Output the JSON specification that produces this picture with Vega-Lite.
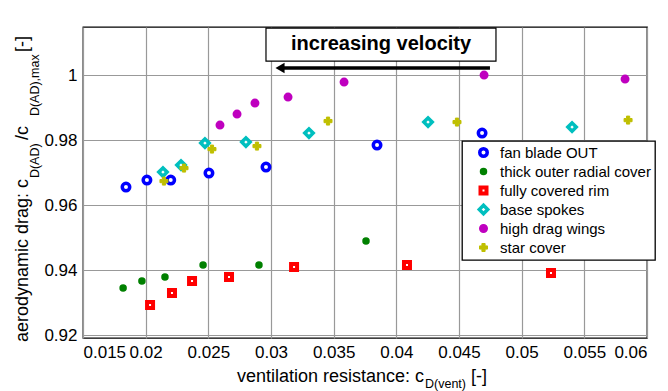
{
  "$schema": "https://vega.github.io/schema/vega-lite/v6.json",
  "width": 564,
  "height": 311,
  "autosize": {"type": "none"},
  "padding": {"left": 83, "top": 27, "right": 21, "bottom": 53},
  "background": "white",
  "data": {"values": [{}]},
  "config": {
    "font": "Liberation Sans",
    "view": {"stroke": "black", "strokeWidth": 1.3},
    "axis": {
      "domain": false,
      "grid": true,
      "gridColor": "#999999",
      "gridWidth": 1.2,
      "ticks": false,
      "labelFont": "Liberation Sans",
      "labelFontSize": 17,
      "labelColor": "black",
      "labelPadding": 6
    },
    "legend": {
      "orient": "none",
      "legendX": 379,
      "legendY": 114,
      "strokeColor": "black",
      "strokeWidth": 1.3,
      "fillColor": "white",
      "padding": 4,
      "symbolOffset": 10,
      "labelOffset": 9,
      "rowPadding": -4,
      "gridAlign": "all",
      "labelFont": "Liberation Sans",
      "labelFontSize": 15,
      "labelColor": "black",
      "labelLimit": 300
    }
  },
  "datasets": {
    "pts": [
      {"series": "fan blade OUT", "x": 0.01843, "y": 0.96554},
      {"series": "fan blade OUT", "x": 0.0201, "y": 0.96769},
      {"series": "fan blade OUT", "x": 0.022, "y": 0.96769},
      {"series": "fan blade OUT", "x": 0.02505, "y": 0.96985},
      {"series": "fan blade OUT", "x": 0.0296, "y": 0.97169},
      {"series": "fan blade OUT", "x": 0.03846, "y": 0.97846},
      {"series": "fan blade OUT", "x": 0.04684, "y": 0.98215},
      {"series": "thick outer radial cover", "x": 0.0182, "y": 0.93446},
      {"series": "thick outer radial cover", "x": 0.0197, "y": 0.93662},
      {"series": "thick outer radial cover", "x": 0.02154, "y": 0.93785},
      {"series": "thick outer radial cover", "x": 0.02458, "y": 0.94154},
      {"series": "thick outer radial cover", "x": 0.02904, "y": 0.94154},
      {"series": "thick outer radial cover", "x": 0.03758, "y": 0.94892},
      {"series": "fully covered rim", "x": 0.02035, "y": 0.92923},
      {"series": "fully covered rim", "x": 0.0221, "y": 0.93292},
      {"series": "fully covered rim", "x": 0.0237, "y": 0.93662},
      {"series": "fully covered rim", "x": 0.02665, "y": 0.93785},
      {"series": "fully covered rim", "x": 0.03184, "y": 0.94092},
      {"series": "fully covered rim", "x": 0.04085, "y": 0.94154},
      {"series": "fully covered rim", "x": 0.05234, "y": 0.93908},
      {"series": "base spokes", "x": 0.02138, "y": 0.97015},
      {"series": "base spokes", "x": 0.02282, "y": 0.97231},
      {"series": "base spokes", "x": 0.02473, "y": 0.97908},
      {"series": "base spokes", "x": 0.028, "y": 0.97938},
      {"series": "base spokes", "x": 0.03303, "y": 0.98215},
      {"series": "base spokes", "x": 0.04253, "y": 0.98554},
      {"series": "base spokes", "x": 0.05402, "y": 0.984},
      {"series": "high drag wings", "x": 0.02593, "y": 0.98462},
      {"series": "high drag wings", "x": 0.02729, "y": 0.988},
      {"series": "high drag wings", "x": 0.02872, "y": 0.99138},
      {"series": "high drag wings", "x": 0.03136, "y": 0.99323},
      {"series": "high drag wings", "x": 0.03583, "y": 0.99785},
      {"series": "high drag wings", "x": 0.047, "y": 1.0},
      {"series": "high drag wings", "x": 0.05825, "y": 0.99877},
      {"series": "star cover", "x": 0.02146, "y": 0.96738},
      {"series": "star cover", "x": 0.02306, "y": 0.97138},
      {"series": "star cover", "x": 0.02529, "y": 0.97723},
      {"series": "star cover", "x": 0.02888, "y": 0.97815},
      {"series": "star cover", "x": 0.03455, "y": 0.98585},
      {"series": "star cover", "x": 0.04484, "y": 0.98554},
      {"series": "star cover", "x": 0.05849, "y": 0.98615}
    ]
  },
  "layer": [
    {
      "data": {"name": "pts"},
      "mark": {"type": "point", "opacity": 1, "fillOpacity": 1, "strokeOpacity": 1},
      "encoding": {
        "x": {
          "field": "x", "type": "quantitative",
          "scale": {"domain": [0.015, 0.06], "nice": false, "zero": false},
          "axis": {"values": [0.015, 0.02, 0.025, 0.03, 0.035, 0.04, 0.045, 0.05, 0.055, 0.06], "format": "~g", "title": null}
        },
        "y": {
          "field": "y", "type": "quantitative",
          "scale": {"domain": [0.9191, 1.0148], "nice": false, "zero": false},
          "axis": {"values": [0.92, 0.94, 0.96, 0.98, 1.0], "format": "~g", "title": null}
        },
        "shape": {
          "field": "series", "type": "nominal",
          "scale": {
            "domain": ["fan blade OUT", "thick outer radial cover", "fully covered rim", "base spokes", "high drag wings", "star cover"],
            "range": ["circle", "circle", "square", "diamond", "circle", "cross"]
          },
          "legend": {"title": null}
        },
        "stroke": {
          "field": "series", "type": "nominal",
          "scale": {
            "domain": ["fan blade OUT", "thick outer radial cover", "fully covered rim", "base spokes", "high drag wings", "star cover"],
            "range": ["#0000ff", "#008000", "#ff0000", "#00bfbf", "#bf00bf", "#bfbf00"]
          },
          "legend": {"title": null}
        },
        "fill": {
          "field": "series", "type": "nominal",
          "scale": {
            "domain": ["fan blade OUT", "thick outer radial cover", "fully covered rim", "base spokes", "high drag wings", "star cover"],
            "range": ["#ffffff", "#008000", "#ffffff", "#ffffff", "#bf00bf", "#bfbf00"]
          },
          "legend": {"title": null}
        },
        "size": {
          "field": "series", "type": "nominal",
          "scale": {
            "type": "ordinal",
            "domain": ["fan blade OUT", "thick outer radial cover", "fully covered rim", "base spokes", "high drag wings", "star cover"],
            "range": [56, 36, 36, 70, 56, 64]
          },
          "legend": {"title": null}
        },
        "strokeWidth": {
          "field": "series", "type": "nominal",
          "scale": {
            "type": "ordinal",
            "domain": ["fan blade OUT", "thick outer radial cover", "fully covered rim", "base spokes", "high drag wings", "star cover"],
            "range": [3.5, 1.5, 4, 3.5, 1.5, 1]
          },
          "legend": {"title": null}
        }
      }
    },
    {
      "mark": {"type": "rect", "fill": "white", "stroke": "black", "strokeWidth": 1.2},
      "encoding": {
        "x": {"datum": 0.0296, "type": "quantitative"},
        "x2": {"datum": 0.04795},
        "y": {"datum": 1.01446, "type": "quantitative"},
        "y2": {"datum": 1.00431}
      }
    },
    {
      "mark": {"type": "text", "text": "increasing velocity", "font": "Liberation Sans", "fontWeight": "bold", "fontSize": 20, "align": "center", "baseline": "middle", "color": "black"},
      "encoding": {
        "x": {"datum": 0.03878, "type": "quantitative"},
        "y": {"datum": 1.0095, "type": "quantitative"}
      }
    },
    {
      "mark": {"type": "rule", "color": "black", "strokeWidth": 3.5},
      "encoding": {
        "x": {"datum": 0.03096, "type": "quantitative"},
        "x2": {"datum": 0.04747},
        "y": {"datum": 1.00215, "type": "quantitative"}
      }
    },
    {
      "mark": {"type": "point", "shape": "triangle-left", "filled": true, "color": "black", "opacity": 1, "size": 110},
      "encoding": {
        "x": {"datum": 0.03072, "type": "quantitative"},
        "y": {"datum": 1.00215, "type": "quantitative"}
      }
    },
    {
      "mark": {"type": "text", "text": "ventilation resistance: c", "font": "Liberation Sans", "fontSize": 18, "align": "right", "baseline": "alphabetic", "color": "black"},
      "encoding": {
        "x": {"datum": 0.042209, "type": "quantitative"},
        "y": {"datum": 0.90554, "type": "quantitative"}
      }
    },
    {
      "mark": {"type": "text", "text": "D(vent)", "font": "Liberation Sans", "fontSize": 12.5, "align": "left", "baseline": "alphabetic", "color": "black"},
      "encoding": {
        "x": {"datum": 0.042288, "type": "quantitative"},
        "y": {"datum": 0.90369, "type": "quantitative"}
      }
    },
    {
      "mark": {"type": "text", "text": "[-]", "font": "Liberation Sans", "fontSize": 18, "align": "left", "baseline": "alphabetic", "color": "black"},
      "encoding": {
        "x": {"datum": 0.045959, "type": "quantitative"},
        "y": {"datum": 0.90554, "type": "quantitative"}
      }
    },
    {
      "mark": {"type": "text", "text": "aerodynamic drag: c", "font": "Liberation Sans", "fontSize": 18, "angle": 270, "align": "left", "baseline": "alphabetic", "color": "black"},
      "encoding": {
        "x": {"datum": 0.010611, "type": "quantitative"},
        "y": {"datum": 0.91785, "type": "quantitative"}
      }
    },
    {
      "mark": {"type": "text", "text": "D(AD)", "font": "Liberation Sans", "fontSize": 12.5, "angle": 270, "align": "left", "baseline": "alphabetic", "color": "black"},
      "encoding": {
        "x": {"datum": 0.011489, "type": "quantitative"},
        "y": {"datum": 0.96831, "type": "quantitative"}
      }
    },
    {
      "mark": {"type": "text", "text": "/c", "font": "Liberation Sans", "fontSize": 18, "angle": 270, "align": "left", "baseline": "alphabetic", "color": "black"},
      "encoding": {
        "x": {"datum": 0.010611, "type": "quantitative"},
        "y": {"datum": 0.98, "type": "quantitative"}
      }
    },
    {
      "mark": {"type": "text", "text": "D(AD),max", "font": "Liberation Sans", "fontSize": 12.5, "angle": 270, "align": "left", "baseline": "alphabetic", "color": "black"},
      "encoding": {
        "x": {"datum": 0.011489, "type": "quantitative"},
        "y": {"datum": 0.98738, "type": "quantitative"}
      }
    },
    {
      "mark": {"type": "text", "text": "[-]", "font": "Liberation Sans", "fontSize": 18, "angle": 270, "align": "left", "baseline": "alphabetic", "color": "black"},
      "encoding": {
        "x": {"datum": 0.010611, "type": "quantitative"},
        "y": {"datum": 1.00708, "type": "quantitative"}
      }
    }
  ]
}
